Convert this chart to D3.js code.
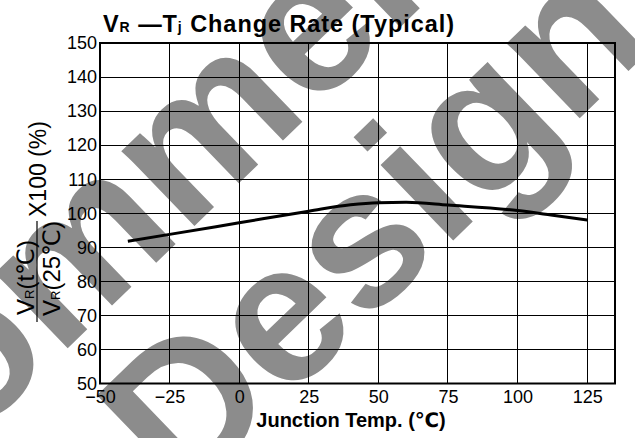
<!DOCTYPE html>
<html>
<head>
<meta charset="utf-8">
<script src="https://cdn.jsdelivr.net/npm/d3@7/dist/d3.min.js"></script>
<style>
  html, body { margin: 0; padding: 0; background: #fff; }
  svg { display: block; }
  text { font-family: "Liberation Sans", Arial, "DejaVu Sans", sans-serif; }
</style>
</head>
<body>
<svg id="chart" width="635" height="438"></svg>
<script>
// ---- data ----
const tempC = [-40, -25, 0, 25, 40, 50, 60, 75, 100, 112, 125];
const rate  = [91.8, 93.8, 97.2, 100.6, 102.5, 103.1, 103.2, 102.4, 100.8, 99.5, 98.0];
const xTicks = [-50, -25, 0, 25, 50, 75, 100, 125];
const yTicks = [50, 60, 70, 80, 90, 100, 110, 120, 130, 140, 150];
const xDomain = [-50, 135];
const yDomain = [50, 150];
const watermarkLines = ["Not Recommended", "for New Design"];

const svg = d3.select("#chart");
const W = 635, H = 438;
const plot = { left: 100, right: 615, top: 43, bottom: 383.5 };

const x = d3.scaleLinear().domain(xDomain).range([plot.left, plot.right]);
const y = d3.scaleLinear().domain(yDomain).range([plot.bottom, plot.top]);

svg.append("rect").attr("width", W).attr("height", H).attr("fill", "#fff");

// ---- watermark ----
const ang = -44, fs = 198;
const rad = ang * Math.PI / 180;
const up = [Math.sin(rad), -Math.cos(rad)];
const wm = svg.append("g").attr("fill", "#8c8c8c").attr("font-weight", "bold").attr("font-size", fs);

function placeLine(str, charIdx, target, upFrac) {
  const g = wm.append("g");
  const t = g.append("text").attr("x", 0).attr("y", 0).text(str);
  const node = t.node();
  const sx = node.getStartPositionOfChar(charIdx).x;
  const ex = node.getEndPositionOfChar(charIdx).x;
  t.attr("x", -(sx + ex) / 2);
  const bx = target[0] - upFrac * fs * up[0];
  const by = target[1] - upFrac * fs * up[1];
  g.attr("transform", `translate(${bx},${by}) rotate(${ang})`);
}
placeLine(watermarkLines[0], 10, [315, 38], 0.26);
placeLine(watermarkLines[1], 11, [463, 231], 0);

// ---- grid ----
const grid = svg.append("g").attr("stroke", "#000").attr("stroke-width", 1).attr("shape-rendering", "crispEdges");
grid.selectAll("line.v").data(xTicks.filter(t => t > xDomain[0])).join("line")
  .attr("class", "v")
  .attr("x1", d => x(d)).attr("x2", d => x(d))
  .attr("y1", plot.top).attr("y2", plot.bottom);
grid.selectAll("line.h").data(yTicks.filter(t => t > yDomain[0] && t < yDomain[1])).join("line")
  .attr("class", "h")
  .attr("x1", plot.left).attr("x2", plot.right)
  .attr("y1", d => y(d)).attr("y2", d => y(d));

// frame
svg.append("rect")
  .attr("x", plot.left).attr("y", plot.top)
  .attr("width", plot.right - plot.left).attr("height", plot.bottom - plot.top)
  .attr("fill", "none").attr("stroke", "#000").attr("stroke-width", 2);

// ---- axes (labels) ----
const xAxis = d3.axisBottom(x).tickValues(xTicks).tickSize(0).tickPadding(0)
  .tickFormat(d => d < 0 ? "\u2212" + Math.abs(d) : String(d));
const gx = svg.append("g").attr("transform", `translate(0,${plot.bottom})`).call(xAxis);
gx.select(".domain").remove();
gx.selectAll("text").attr("font-size", 18).attr("fill", "#000")
  .attr("font-family", "'Liberation Sans', Arial, sans-serif")
  .attr("dy", null).attr("y", 19.5);

const yAxis = d3.axisLeft(y).tickValues(yTicks).tickSize(0).tickPadding(3);
const gy = svg.append("g").attr("transform", `translate(${plot.left},0)`).call(yAxis);
gy.select(".domain").remove();
gy.selectAll("text").attr("font-size", 18).attr("fill", "#000")
  .attr("font-family", "'Liberation Sans', Arial, sans-serif")
  .attr("dy", null).attr("y", 5.8);

// ---- curve ----
const pts = tempC.map((t, i) => [t, rate[i]]);
svg.append("path")
  .datum(pts)
  .attr("fill", "none").attr("stroke", "#000").attr("stroke-width", 3)
  .attr("d", d3.line().x(d => x(d[0])).y(d => y(d[1])).curve(d3.curveMonotoneX));

// ---- title ----
const title = svg.append("text").attr("x", 103).attr("y", 32)
  .attr("font-size", 23.5).attr("font-weight", "bold").attr("fill", "#000")
  .attr("textLength", 351).attr("lengthAdjust", "spacing");
title.append("tspan").text("V");
title.append("tspan").attr("font-size", 14).text("R");
title.append("tspan").text(" \u2014T");
title.append("tspan").attr("font-size", 14).text("j");
title.append("tspan").text(" Change Rate (Typical)");

// ---- x title ----
svg.append("text").attr("x", 351).attr("y", 427).attr("text-anchor", "middle")
  .attr("font-size", 20).attr("font-weight", "bold").attr("fill", "#000")
  .text("Junction Temp. (\u2103)");

// ---- y title (rotated) ----
const yt = svg.append("g").attr("transform", "rotate(-90)").attr("fill", "#000");
const barX = 37;
yt.append("line").attr("x1", -322).attr("x2", -221).attr("y1", barX).attr("y2", barX)
  .attr("stroke", "#000").attr("stroke-width", 1.2);
const num = yt.append("text").attr("x", -315).attr("y", barX - 3).attr("font-size", 24);
num.append("tspan").text("V");
num.append("tspan").attr("font-size", 13).text("R");
num.append("tspan").text("(t\u2103)");
const den = yt.append("text").attr("x", -316).attr("y", barX + 23).attr("font-size", 24);
den.append("tspan").text("V");
den.append("tspan").attr("font-size", 13).text("R");
den.append("tspan").text("(25\u2103)");
yt.append("text").attr("x", -217).attr("y", barX + 8.5).attr("font-size", 23)
  .text("X100 (%)");
</script>
</body>
</html>
